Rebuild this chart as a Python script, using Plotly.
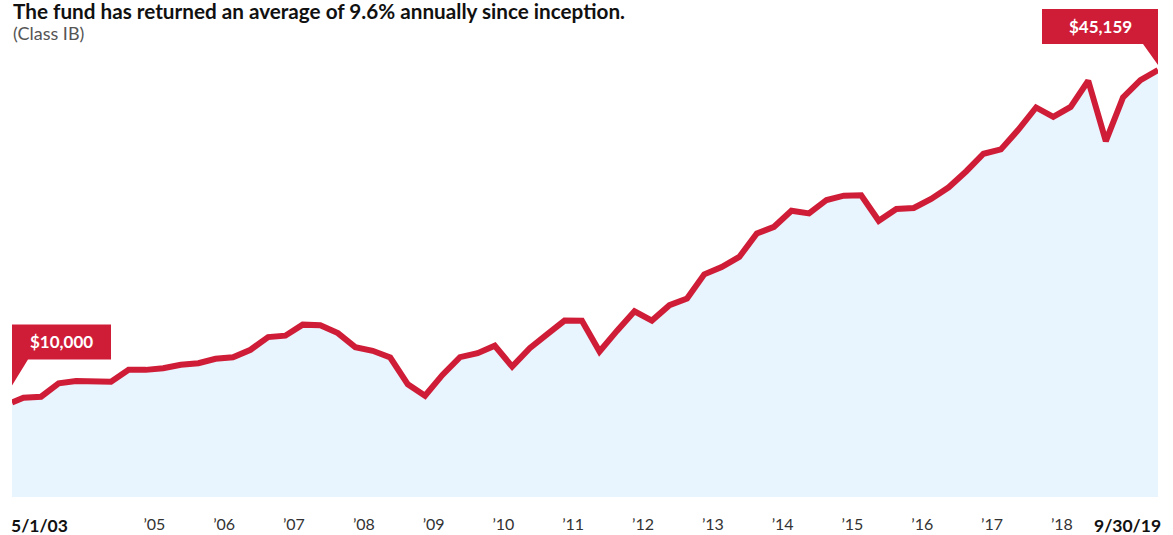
import pandas as pd
import plotly.graph_objects as go

# ---- data ----
start_date = "2003-05-01"
end_date = "2019-09-30"
quarter_ends = [d.strftime("%Y-%m-%d") for d in pd.date_range("2003-06-30", end_date, freq="QE")]
dates = [start_date] + quarter_ends

values = [
    10000, 10500, 10606, 12020, 12275, 12307, 12201, 13445, 13445, 13615,
    13976, 14146, 14614, 14784, 15571, 16911, 17059, 18229, 18154, 17336,
    15847, 15465, 14752, 11914, 10712, 12913, 14784, 15209, 15996, 13795,
    15741, 17229, 18654, 18640, 15390, 17591, 19643, 18654, 20281, 20993,
    23545, 24321, 25384, 27861, 28573, 30274, 29987, 31412, 31869, 31900,
    29211, 30455, 30561, 31518, 32751, 34453, 36302, 36760, 38854, 41193,
    40194, 41257, 44021, 37642, 42256, 44095, 45159,
]

year_tick_dates = [f"{y}-05-15" for y in range(2005, 2019)]
year_tick_labels = ["\u2019" + str(y)[2:] for y in range(2005, 2019)]

start_label = "5/1/03"
end_label = "9/30/19"
start_value_label = "$10,000"
end_value_label = "$45,159"

title = "The fund has returned an average of 9.6% annually since inception."
subtitle = "(Class IB)"

# ---- style ----
RED = "#CF1D38"
FILL = "#E8F4FE"
FONT = "Lato, 'Source Sans Pro', sans-serif"

fig = go.Figure()
fig.add_trace(go.Scatter(
    x=dates, y=values, mode="lines",
    line=dict(color=RED, width=6),
    fill="tozeroy", fillcolor=FILL,
    hoverinfo="skip", showlegend=False,
))

shapes = [
    # callout at start
    dict(type="path", xref="x", yref="y", xsizemode="pixel", ysizemode="pixel",
         xanchor=dates[0], yanchor=values[0],
         path="M 0,78 L 99,78 L 99,43 L 16,43 L 0,17 Z",
         fillcolor=RED, line=dict(width=0), layer="above"),
    # callout at end
    dict(type="path", xref="x", yref="y", xsizemode="pixel", ysizemode="pixel",
         xanchor=dates[-1], yanchor=values[-1],
         path="M -116,61 L 0,61 L 0,5 L -15,26 L -116,26 Z",
         fillcolor=RED, line=dict(width=0), layer="above"),
]

annotations = [
    dict(text=f"<b>{title}</b>", xref="paper", yref="paper", x=0, y=1,
         xanchor="left", yanchor="top", showarrow=False, yshift=3, xshift=-1,
         font=dict(family=FONT, size=20.7, color="#111111")),
    dict(text=subtitle, xref="paper", yref="paper", x=0, y=1,
         xanchor="left", yanchor="top", showarrow=False, yshift=-20, xshift=-1,
         font=dict(family=FONT, size=18, color="#555555")),
    dict(text=f"<b>{start_value_label}</b>", xref="x", yref="y", x=dates[0], y=values[0],
         xanchor="center", yanchor="middle", showarrow=False,
         xshift=49.5, yshift=60.5,
         font=dict(family=FONT, size=17, color="white")),
    dict(text=f"<b>{end_value_label}</b>", xref="x", yref="y", x=dates[-1], y=values[-1],
         xanchor="center", yanchor="middle", showarrow=False,
         xshift=-58, yshift=43.5,
         font=dict(family=FONT, size=17, color="white")),
    dict(text=f"<b>{start_label}</b>", xref="paper", yref="paper", x=0, y=0,
         xanchor="left", yanchor="middle", showarrow=False, xshift=-3, yshift=-28,
         font=dict(family=FONT, size=17.5, color="#111111")),
    dict(text=f"<b>{end_label}</b>", xref="paper", yref="paper", x=1, y=0,
         xanchor="right", yanchor="middle", showarrow=False, xshift=5, yshift=-28,
         font=dict(family=FONT, size=17.5, color="#111111")),
]

fig.update_layout(
    width=1173, height=535,
    margin=dict(l=12, r=15, t=0, b=38),
    paper_bgcolor="white", plot_bgcolor="white",
    shapes=shapes, annotations=annotations,
    xaxis=dict(type="date", range=[start_date, end_date],
               tickvals=year_tick_dates, ticktext=year_tick_labels,
               showgrid=False, zeroline=False, showline=False, ticks="",
               ticklabelstandoff=16,
               tickfont=dict(family=FONT, size=16, color="#333333")),
    yaxis=dict(range=[0, 52560], visible=False, showgrid=False, zeroline=False),
)

fig.write_html("out.html", config={"displayModeBar": False},
               post_script="document.body.style.margin='0px';")
